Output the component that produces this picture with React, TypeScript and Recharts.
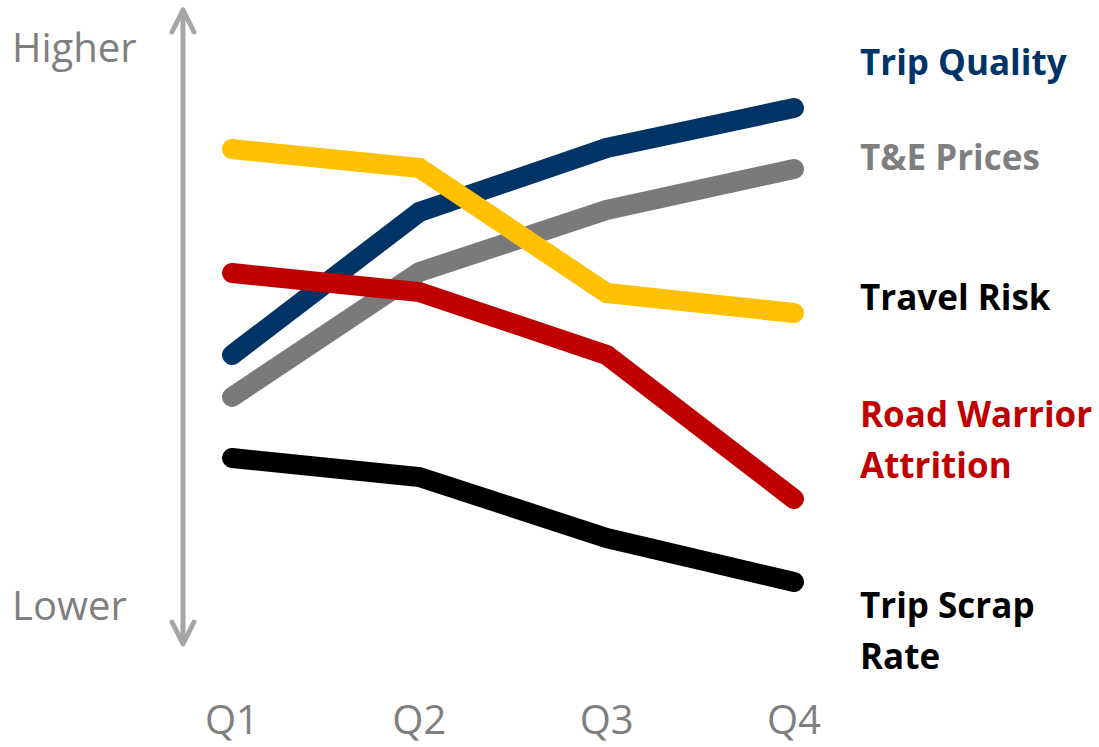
import { Line, LineChart, XAxis, YAxis } from "recharts";

// quarters on the x axis
const quarters = ["Q1", "Q2", "Q3", "Q4"];

// relative levels (0 = bottom of plot, 130 = top)
const tripQuality = [59, 87.6, 100.4, 108.4];
const tePrices = [50.6, 75.6, 88, 96.2];
const travelRisk = [100.2, 96.4, 71.4, 67.4];
const roadWarrior = [75.4, 71.6, 59, 30.2];
const tripScrap = [38.4, 34.6, 22.4, 13.6];

// right-hand labels (lines of text, colour)
const labels: Array<{ lines: string[]; color: string; y: number }> = [
  { lines: ["Trip Quality"], color: "#003366", y: 75 },
  { lines: ["T&E Prices"], color: "#7F7F7F", y: 170 },
  { lines: ["Travel Risk"], color: "#000000", y: 310 },
  { lines: ["Road Warrior", "Attrition"], color: "#C00000", y: 427 },
  { lines: ["Trip Scrap", "Rate"], color: "#000000", y: 618 },
];

const data = quarters.map((q, i) => ({
  q,
  quality: tripQuality[i],
  prices: tePrices[i],
  risk: travelRisk[i],
  warrior: roadWarrior[i],
  scrap: tripScrap[i],
}));

const font = "'Open Sans', sans-serif";

function QuarterTick(props: any) {
  const { x, y, payload } = props;
  return (
    <text x={x} y={y} dy={82} textAnchor="middle" fill="#7F7F7F" fontSize={40} fontFamily={font}>
      {payload.value}
    </text>
  );
}

export default function App() {
  const lineProps = {
    type: "linear" as const,
    strokeWidth: 20,
    strokeLinecap: "round" as const,
    strokeLinejoin: "miter" as const,
    dot: false,
    activeDot: false,
    isAnimationActive: false,
  };
  return (
    <div style={{ position: "absolute", left: 0, top: 0, width: 1099, height: 747, background: "#fff" }}>
      <LineChart width={1099} height={747} data={data} margin={{ top: 0, right: 305, bottom: 37, left: 232 }}>
        <XAxis dataKey="q" height={60} axisLine={false} tickLine={false} tickSize={0} tick={<QuarterTick />} interval={0} />
        <YAxis hide domain={[0, 130]} />
        <Line dataKey="prices" stroke="#7A7A7A" {...lineProps} />
        <Line dataKey="quality" stroke="#003366" {...lineProps} />
        <Line dataKey="risk" stroke="#FFC000" {...lineProps} />
        <Line dataKey="warrior" stroke="#C00000" {...lineProps} />
        <Line dataKey="scrap" stroke="#000000" {...lineProps} />
      </LineChart>
      <svg width={1099} height={747} style={{ position: "absolute", left: 0, top: 0, pointerEvents: "none" }}>
        <g stroke="#A6A6A6" strokeWidth={5} strokeLinecap="round" strokeLinejoin="round" fill="none">
          <line x1={183} y1={10} x2={183} y2={643} />
          <polyline points="172,32 183,10 194,32" />
          <polyline points="172,622 183,644 194,622" />
        </g>
        <text x={12} y={62} fill="#7F7F7F" fontSize={40} fontFamily={font}>Higher</text>
        <text x={12} y={620} fill="#7F7F7F" fontSize={40} fontFamily={font}>Lower</text>
        {labels.map((l) => (
          <text key={l.lines[0]} x={860} y={l.y} fill={l.color} fontSize={35} fontWeight={700} fontFamily={font}>
            {l.lines.map((t, i) => (
              <tspan key={t} x={860} dy={i === 0 ? 0 : 51}>{t}</tspan>
            ))}
          </text>
        ))}
      </svg>
    </div>
  );
}
